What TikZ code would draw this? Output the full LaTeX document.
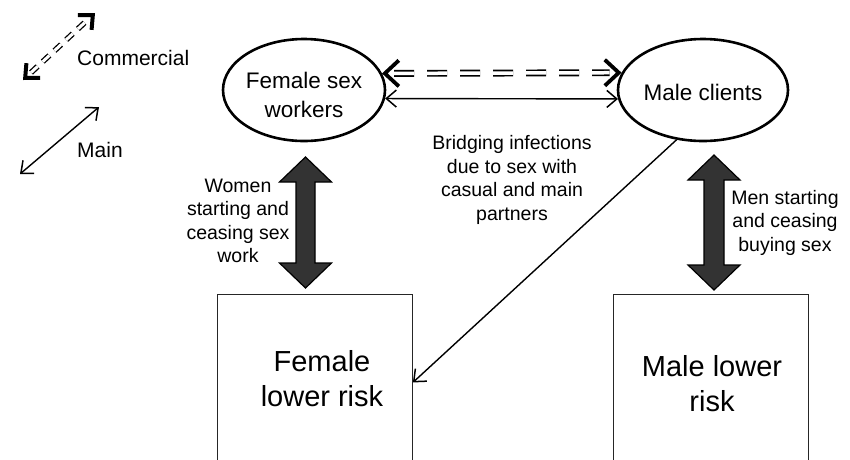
\documentclass[tikz,border=0pt]{standalone}
\usepackage{fontspec}
\setmainfont{Liberation Sans}
\usetikzlibrary{shapes.geometric,arrows.meta,calc}
\newcommand\blkarrow[3]{% top tip, bottom tip, shaft half width
  \draw[blockarr] (#1) -- ++(26,25) -- ++({-26+#3},0) -- ($(#2)+(#3,-25)$) -- ++({26-#3},0) -- (#2)
    -- ++(-26,-25) -- ++({26-#3},0) -- ($(#1)+(-#3,25)$) -- ++({-26+#3},0) -- cycle;}
\begin{document}
\begin{tikzpicture}[x=1pt,y=-1pt,
 oval/.style={ellipse, draw, line width=2.6pt, minimum width=162pt, minimum height=102pt, inner sep=0pt},
 bigtxt/.style={font=\fontsize{29}{35}\selectfont, align=center, inner sep=0pt},
 ovtxt/.style={font=\fontsize{22.5}{29}\selectfont, align=center, inner sep=0pt},
 smtxt/.style={font=\fontsize{19.5}{23.5}\selectfont, align=center, inner sep=0pt},
 legtxt/.style={font=\fontsize{21}{25}\selectfont, anchor=west, inner sep=0pt},
 riskbox/.style={draw=black!85, line width=0.9pt, minimum width=195pt, minimum height=176pt, inner sep=0pt, anchor=north west},
 blockarr/.style={draw=black, line width=1.2pt, fill=black!80, line join=miter},
 comline/.style={draw, dash pattern=on 20pt off 13pt, double, double distance=3.5pt, line width=1.7pt},
 comhead/.style={-{Straight Barb[length=14pt,width=26pt,line width=3.8pt]}, line width=0.5pt},
 smallhead/.style={-{Straight Barb[length=11pt,width=20pt,line width=4pt]}, line width=0.5pt},
 mainarr/.style={{Straight Barb[length=10pt,width=17pt,line width=1.5pt]}-{Straight Barb[length=10pt,width=17pt,line width=1.5pt]}, line width=1.4pt},
 onearr/.style={-{Straight Barb[length=10pt,width=17pt,line width=1.5pt]}, line width=1.4pt}
]
\useasboundingbox (0,0) rectangle (850,459);
\clip (0,0) rectangle (850,459);

% ellipses
\node[oval] (fsw) at (304,90) {};
\node[ovtxt] (fswt) at (304,95) {Female sex\\workers};
\node[oval, minimum width=170pt] (mc) at (703,90) {};
\node[ovtxt] (mct) at (703,92) {Male clients};

% boxes
\node[riskbox] (flr) at (217,294) {};
\node[riskbox] (mlr) at (613,294) {};
\node[bigtxt] (flrt) at (322,379) {Female\\lower risk};
\node[bigtxt] (mlrt) at (712,384) {Male lower\\risk};

% block arrows
\coordinate (fa1) at (305.5,157);
\coordinate (fa2) at (305.5,288);
\blkarrow{fa1}{fa2}{9.5}
\coordinate (mb1) at (714,155);
\coordinate (mb2) at (714,290);
\blkarrow{mb1}{mb2}{10}

% labels
\node[smtxt] (wl) at (238,221) {Women\\starting and\\ceasing sex\\work};
\node[smtxt] (ml) at (785,222.5) {Men starting\\and ceasing\\buying sex};
\node[smtxt] (bl) at (512,180) {Bridging infections\\due to sex with\\casual and main\\partners};

% commercial connector
\draw[comline, shorten <=12pt, shorten >=12pt] (fsw.12) -- (mc.168);
\draw[comhead] ($(fsw.12)!3pt!(mc.168)$) -- (fsw.12);
\draw[comhead] ($(mc.168)!3pt!(fsw.12)$) -- (mc.168);
% main connector
\draw[mainarr] (fsw.-6) -- (mc.186);
% bridging
\draw[onearr] (mc.242) -- (flr.east);

% legend
\coordinate (c1) at (23,80);
\coordinate (c2) at (95,13);
\draw[comline, dash pattern=on 9pt off 7pt, double distance=3pt, line width=1.3pt, shorten <=11pt, shorten >=11pt] (c1) -- (c2);
\draw[smallhead] ($(c1)!3pt!(c2)$) -- (c1);
\draw[smallhead] ($(c2)!3pt!(c1)$) -- (c2);
\node[legtxt] (comt) at (77,58) {Commercial};
\coordinate (m1) at (20,174);
\coordinate (m2) at (99,107);
\draw[mainarr] (m1) -- (m2);
\node[legtxt] (maint) at (77,150) {Main};
\end{tikzpicture}
\end{document}
